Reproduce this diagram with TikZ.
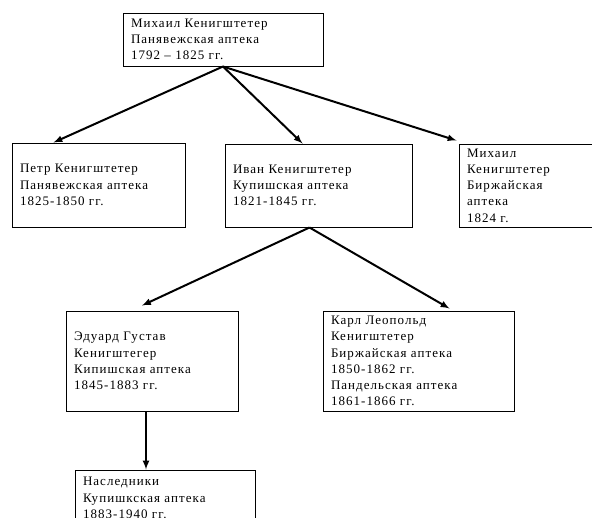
\documentclass[tikz,border=0pt]{standalone}
\usepackage{fontspec}
\setmainfont[LetterSpace=8]{Liberation Serif}
\usetikzlibrary{calc,arrows}

\begin{document}
\begin{tikzpicture}[x=1pt,y=-1pt,
    box/.style={draw,line width=1pt,rectangle,inner xsep=8pt,inner ysep=0pt,align=left,
        font=\fontsize{13}{16.2}\selectfont},
    arr/.style={-latex,line width=2pt}]
            \useasboundingbox (0,0) rectangle (592,517);
            \clip (0,0) rectangle (592,517);
            \node[box,minimum width=200pt,minimum height=53pt,text width=184pt] (michail) at (223,39.5)
                {Михаил Кенигштетер\\Панявежская аптека\\1792 – 1825 гг.};
            \node[box,minimum width=173pt,minimum height=84pt,text width=157pt] (petr) at (98.5,185)
                {Петр Кенигштетер\\Панявежская аптека\\1825-1850 гг.};
            \node[box,minimum width=187pt,minimum height=83pt,text width=171pt] (ivan) at (318.5,185.5)
                {Иван Кенигштетер\\Купишская аптека\\1821-1845 гг.};
            \node[box,minimum width=150pt,minimum height=83pt,text width=134pt] (michail2) at (534,185.5)
                {Михаил\\Кенигштетер\\Биржайская\\аптека\\1824 г.};
            \node[box,minimum width=172pt,minimum height=100pt,text width=156pt] (eduard) at (152,361)
                {Эдуард Густав\\Кенигштегер\\Кипишская аптека\\1845-1883 гг.};
            \node[box,minimum width=191pt,minimum height=100pt,text width=175pt] (karl) at (418.5,361)
                {Карл Леопольд\\Кенигштетер\\Биржайская аптека\\1850-1862 гг.\\Пандельская аптека\\1861-1866 гг.};
            \node[box,minimum width=180pt,minimum height=56pt,text width=164pt] (heirs) at (165,498)
                {Наследники\\Купишкская аптека\\1883-1940 гг.};
            \draw[arr] (michail.south) -- ([xshift=-45pt]petr.north);
            \draw[arr] (michail.south) -- ([xshift=-16pt]ivan.north);
            \draw[arr] (michail.south) -- ([xshift=-2pt,yshift=3pt]michail2.north west);
            \draw[arr] ([xshift=-9pt]ivan.south) -- ([xshift=-10pt,yshift=5pt]eduard.north);
            \draw[arr] ([xshift=-9pt]ivan.south) -- ([xshift=31pt,yshift=2pt]karl.north);
            \draw[arr] ([xshift=-6pt]eduard.south) -- ([xshift=-19pt]heirs.north);
        \end{tikzpicture}
\end{document}
